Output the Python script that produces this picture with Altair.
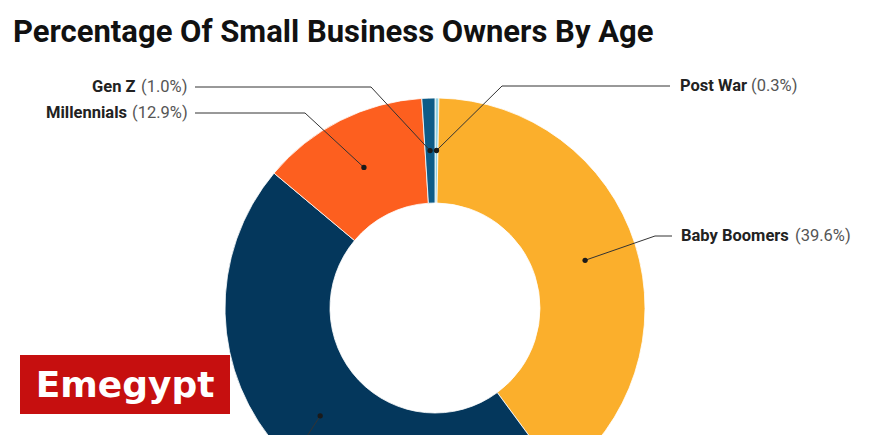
import math
import altair as alt
import pandas as pd

# ---- data ----
categories = ["Post War", "Baby Boomers", "Gen X", "Millennials", "Gen Z"]
values = [0.3, 39.6, 46.2, 12.9, 1.0]
value_labels = ["(0.3%)", "(39.6%)", "(46.2%)", "(12.9%)", "(1.0%)"]
colors = ["#93D2E2", "#FBAF2C", "#04375C", "#FD5F1F", "#0D5B87"]
title_text = "Percentage Of Small Business Owners By Age"
watermark_text = "Emegypt"

# ---- layout (view pixels; view origin = page (8, 8)) ----
W, H = 854, 600
CX, CY = 427, 300
R_OUT, R_IN = 210, 105
R_DOT = (R_OUT + R_IN) / 2

# Gen X label lies below the visible area in the reference, so only its leader is drawn
layout = {
    "Post War":     dict(nx=672, vx=743, ly=78,  start=(662, 78),  elbow=(494, 78), show=True),
    "Baby Boomers": dict(nx=673, vx=787, ly=228, start=(664, 228), elbow=(647, 228), show=True),
    "Gen X":        dict(nx=60,  vx=110, ly=470, start=(190, 470), elbow=(272, 470), show=False),
    "Millennials":  dict(nx=38,  vx=124, ly=105, start=(187, 105), elbow=(297, 105), show=True),
    "Gen Z":        dict(nx=84,  vx=133, ly=79,  start=(187, 79),  elbow=(363, 79), show=True),
}

# ---- derived tables ----
arc_df = pd.DataFrame({"cat": categories, "val": values, "idx": range(len(categories))})

total = sum(values)
dots, lines, labels = [], [], []
cum = 0.0
for c, v, vl in zip(categories, values, value_labels):
    a = (cum + v / 2) / total * 2 * math.pi
    cum += v
    dx = CX + R_DOT * math.sin(a)
    dy = CY - R_DOT * math.cos(a)
    dots.append({"cat": c, "x": dx, "y": dy})
    L = layout[c]
    for seq, (px, py) in enumerate([L["start"], L["elbow"], (dx, dy)]):
        lines.append({"cat": c, "seq": seq, "x": px, "y": py})
    if L["show"]:
        labels.append({"cat": c, "vl": vl, "nx": L["nx"], "vx": L["vx"], "y": L["ly"]})

dots_df = pd.DataFrame(dots)
lines_df = pd.DataFrame(lines)
labels_df = pd.DataFrame(labels)

color_scale = alt.Scale(domain=categories, range=colors)

arcs = alt.Chart(arc_df).mark_arc(
    outerRadius=R_OUT, innerRadius=R_IN, stroke="#ffffff", strokeWidth=0.8
).encode(
    theta=alt.Theta("val:Q", stack=True),
    order=alt.Order("idx:Q"),
    color=alt.Color("cat:N", scale=color_scale, legend=None),
    x=alt.value(CX),
    y=alt.value(CY),
)

leader = alt.Chart(lines_df).mark_line(color="#333333", strokeWidth=1).encode(
    x=alt.X("x:Q", scale=None, axis=None),
    y=alt.Y("y:Q", scale=None, axis=None),
    detail="cat:N",
    order="seq:Q",
)

dot_layer = alt.Chart(dots_df).mark_circle(color="#1a1a1a", size=28, opacity=1).encode(
    x=alt.X("x:Q", scale=None, axis=None),
    y=alt.Y("y:Q", scale=None, axis=None),
)

name_layer = alt.Chart(labels_df).mark_text(
    align="left", baseline="middle", font="Roboto", fontSize=16.5,
    fontWeight="bold", color="#222222"
).encode(
    x=alt.X("nx:Q", scale=None, axis=None),
    y=alt.Y("y:Q", scale=None, axis=None),
    text="cat:N",
)

value_layer = alt.Chart(labels_df).mark_text(
    align="left", baseline="middle", font="Roboto", fontSize=16.5,
    color="#555555"
).encode(
    x=alt.X("vx:Q", scale=None, axis=None),
    y=alt.Y("y:Q", scale=None, axis=None),
    text="vl:N",
)

title_layer = alt.Chart(pd.DataFrame({"t": [title_text]})).mark_text(
    align="left", baseline="alphabetic", font="Roboto", fontSize=31,
    fontWeight="bold", color="#111111"
).encode(x=alt.value(5), y=alt.value(34), text="t:N")

wm_rect = alt.Chart(pd.DataFrame({"w": [watermark_text]})).mark_rect(
    color="#C60F0F"
).encode(x=alt.value(12), x2=alt.value(222), y=alt.value(347), y2=alt.value(406))

wm_text = alt.Chart(pd.DataFrame({"w": [watermark_text]})).mark_text(
    align="center", baseline="middle", font="DejaVu Sans", fontSize=36,
    fontWeight="bold", color="#ffffff"
).encode(x=alt.value(117), y=alt.value(378), text="w:N")

chart = alt.layer(
    arcs, leader, dot_layer, name_layer, value_layer, title_layer, wm_rect, wm_text
).properties(
    width=W, height=H, padding=0, autosize=alt.AutoSizeParams(type="none")
).configure_view(stroke=None)

chart.save("out.html", embed_options={"renderer": "svg", "actions": False})
